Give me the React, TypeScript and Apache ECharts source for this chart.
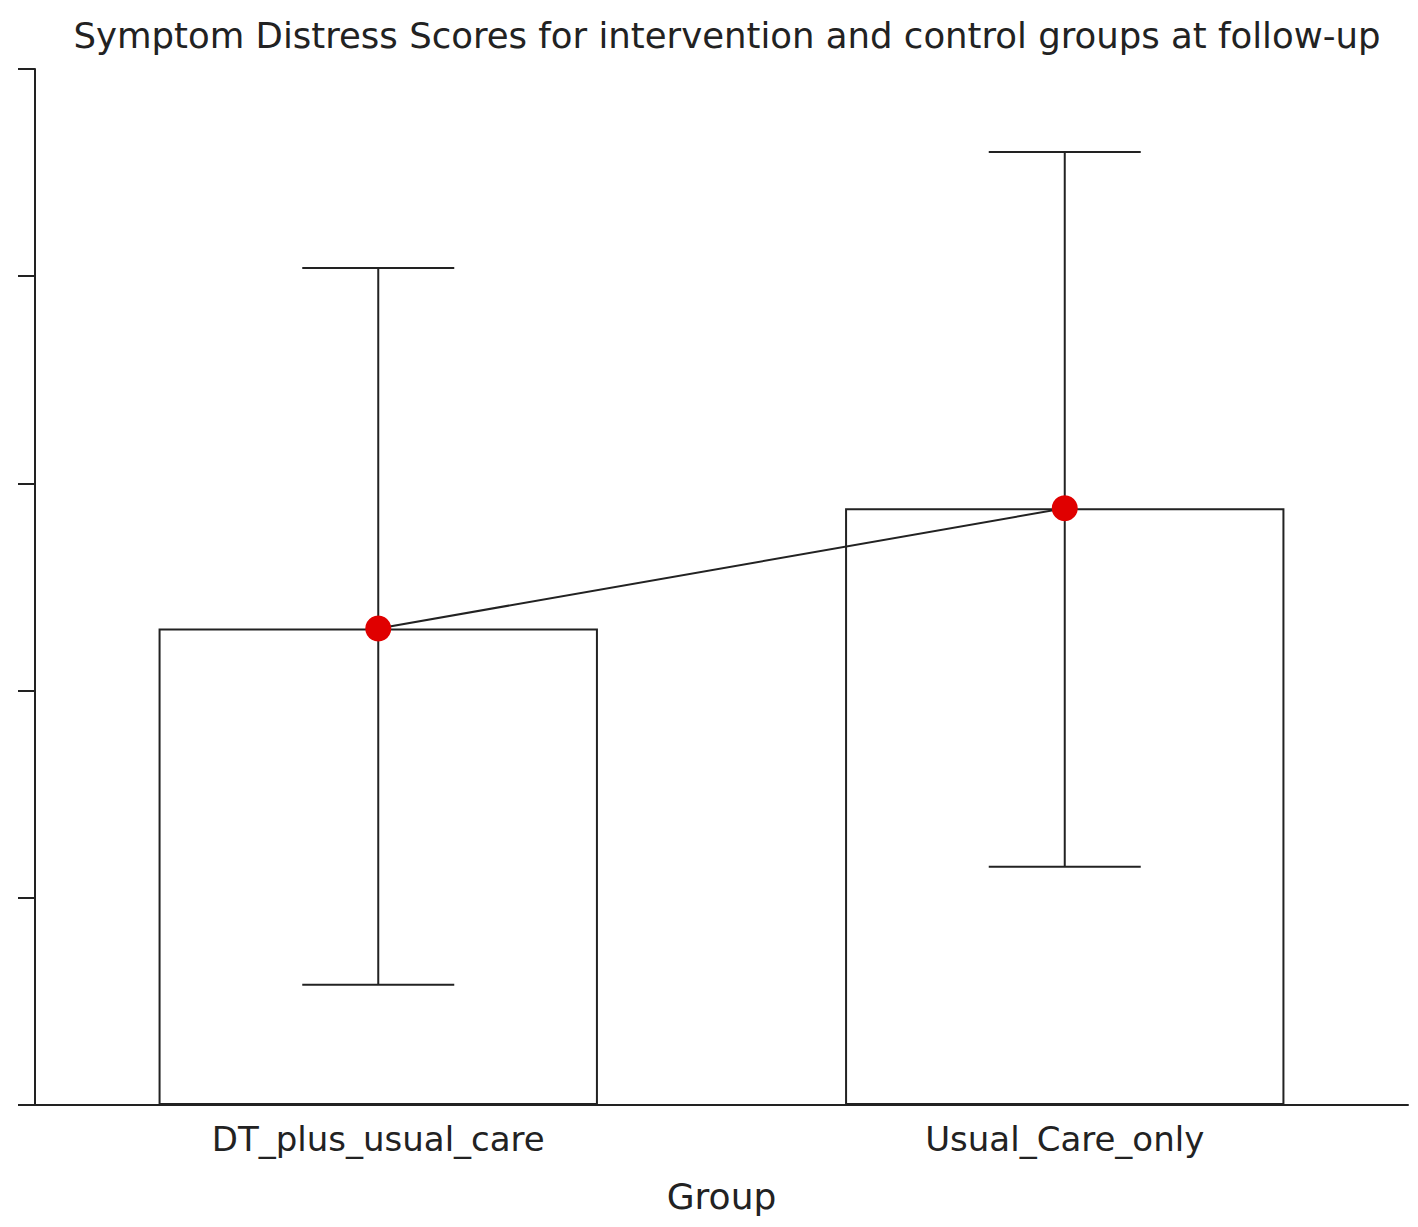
import React, { useEffect, useRef } from "react";
import * as echarts from "echarts";

const categories = ["DT_plus_usual_care", "Usual_Care_only"];
const means = [11.5, 14.4];
const upper = [20.2, 23.0];
const lower = [2.9, 5.75];
const yTicks = [0, 5, 10, 15, 20, 25];

export default function App() {
  const ref = useRef<HTMLDivElement>(null);
  useEffect(() => {
    if (!ref.current) return;
    const chart = echarts.init(ref.current, undefined, { renderer: "svg" });
    const font = "DejaVu Sans, Liberation Sans, sans-serif";
    chart.setOption({
      animation: false,
      backgroundColor: "#fff",
      title: {
        text: "Symptom Distress Scores for intervention and control groups at follow-up",
        left: 722,
        textAlign: "center",
        top: 12,
        textStyle: { fontFamily: font, fontSize: 35.5, fontWeight: "normal", color: "#222" },
      },
      grid: { left: 35, right: 10, top: 69, bottom: 122 },
      xAxis: {
        type: "category",
        data: categories,
        name: "Group",
        nameLocation: "middle",
        nameGap: 73,
        nameTextStyle: { fontFamily: font, fontSize: 36, color: "#222" },
        axisLine: { lineStyle: { color: "#222", width: 2 } },
        axisTick: { alignWithLabel: true, length: 11, lineStyle: { color: "#222", width: 2 } },
        axisLabel: { fontFamily: font, fontSize: 34, color: "#222", margin: 17 },
      },
      yAxis: {
        type: "value",
        min: yTicks[0],
        max: yTicks[yTicks.length - 1],
        interval: 5,
        splitLine: { show: false },
        axisLine: { show: true, lineStyle: { color: "#222", width: 2 } },
        axisTick: { show: true, length: 17, lineStyle: { color: "#222", width: 2 } },
        axisLabel: { show: false },
      },
      series: [
        {
          type: "bar",
          data: means,
          barWidth: "64%",
          itemStyle: { color: "#fff", borderColor: "#222", borderWidth: 2 },
          z: 1,
        },
        {
          type: "custom",
          data: categories.map((_, i) => [i, lower[i], upper[i]]),
          renderItem: (params: any, api: any) => {
            const x = api.value(0);
            const lo = api.coord([x, api.value(1)]);
            const hi = api.coord([x, api.value(2)]);
            const hw = 76;
            const style = { stroke: "#222", lineWidth: 2 };
            return {
              type: "group",
              children: [
                { type: "line", shape: { x1: lo[0], y1: lo[1], x2: hi[0], y2: hi[1] }, style },
                { type: "line", shape: { x1: hi[0] - hw, y1: hi[1], x2: hi[0] + hw, y2: hi[1] }, style },
                { type: "line", shape: { x1: lo[0] - hw, y1: lo[1], x2: lo[0] + hw, y2: lo[1] }, style },
              ],
            };
          },
          z: 2,
        },
        {
          type: "line",
          data: means,
          symbol: "circle",
          symbolSize: 26,
          itemStyle: { color: "#e00000" },
          lineStyle: { color: "#222", width: 2 },
          z: 3,
        },
      ],
    });
    return () => chart.dispose();
  }, []);
  return (
    <div
      ref={ref}
      style={{ position: "absolute", left: 0, top: 0, width: 1418, height: 1227 }}
    />
  );
}
